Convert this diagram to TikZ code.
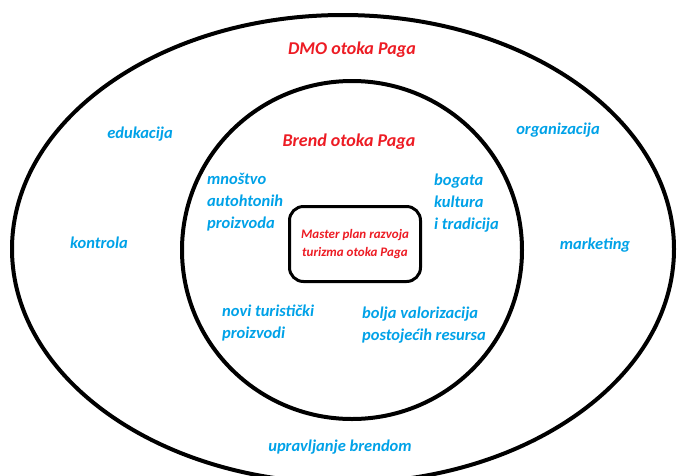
\documentclass[tikz,border=0pt]{standalone}
\usepackage{fontspec}
\setmainfont{Carlito}
\definecolor{lblue}{RGB}{0,162,232}
\definecolor{lred}{RGB}{237,28,36}
\begin{document}
\begin{tikzpicture}[x=1pt,y=-1pt,
  ring/.style={draw=black,line width=4pt},
  bluetxt/.style={text=lblue,font=\bfseries\itshape\fontsize{16.5}{22}\selectfont,align=left,inner sep=0pt},
  redtxt/.style={text=lred,font=\bfseries\itshape\fontsize{18}{20}\selectfont,inner sep=0pt},
  corebox/.style={draw=black,line width=3pt,rounded corners=14pt,minimum width=131pt,minimum height=75pt,
    text=lred,font=\bfseries\itshape\fontsize{13}{18}\selectfont,align=center,inner sep=0pt}]
\useasboundingbox (0,0) rectangle (678,475);
\fill[white] (0,0) rectangle (678,475);
\begin{scope}
\clip (0,0) rectangle (678,475);
\draw[ring] (343,249) ellipse [x radius=331pt, y radius=234pt];
\end{scope}
\draw[ring] (352,250) ellipse [x radius=170pt, y radius=169pt];
\node[corebox] (core) at (355,244) {Master plan razvoja\\turizma otoka Paga};
\node[redtxt] (dmo) at (352,50) {DMO otoka Paga};
\node[redtxt] (brend) at (349,142) {Brend otoka Paga};
\node[bluetxt] (edu) at (140,134) {edukacija};
\node[bluetxt] (org) at (558,130) {organizacija};
\node[bluetxt] (kon) at (99,243) {kontrola};
\node[bluetxt] (mar) at (595,245) {marketing};
\node[bluetxt] (upr) at (340,447) {upravljanje brendom};
\node[bluetxt,anchor=north west] (mno) at (207,173) {mnoštvo\\autohtonih\\proizvoda};
\node[bluetxt,anchor=north west] (bog) at (434,174) {bogata\\kultura\\i tradicija};
\node[bluetxt,anchor=north west] (nov) at (222,305) {novi turistički\\proizvodi};
\node[bluetxt,anchor=north west] (bol) at (362,307) {bolja valorizacija\\postojećih resursa};
\end{tikzpicture}
\end{document}
